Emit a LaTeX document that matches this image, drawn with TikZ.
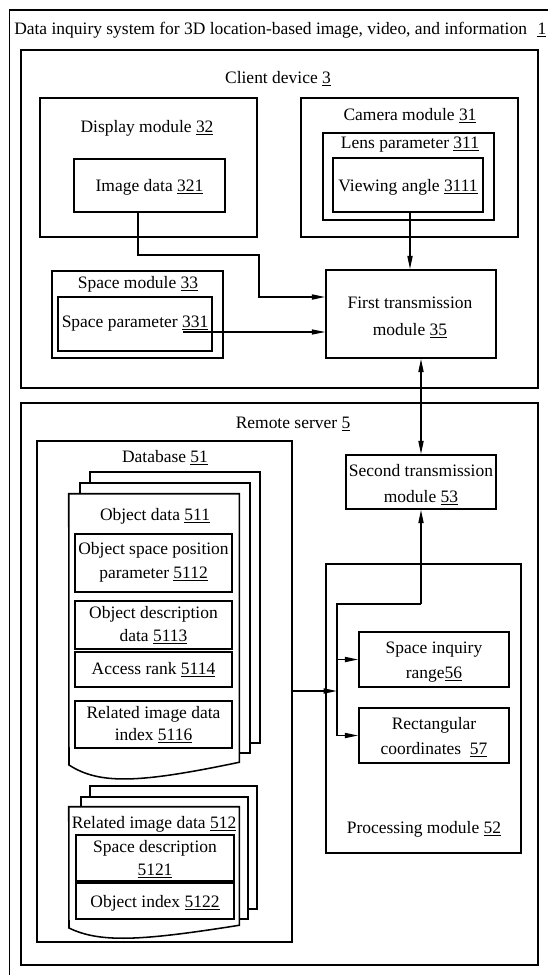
\documentclass[tikz,border=0pt]{standalone}
\usepackage{fontspec}
\setmainfont{Liberation Serif}
\usetikzlibrary{fit,arrows.meta}
\newcommand{\dfont}{\fontsize{13.1pt}{18.8pt}\selectfont}
\newcommand{\unum}[1]{\underline{#1}}
\begin{document}
\begin{tikzpicture}[x=0.75pt,y=-0.75pt,
  box/.style={draw, line width=1.15pt, inner sep=0pt},
  sheet/.style={draw, fill=white, line width=1.15pt, inner sep=0pt},
  lbl/.style={font=\dfont, inner sep=0pt, anchor=base},
  arr/.style={-{Triangle[length=10pt,width=3.8pt]}, line width=1.15pt},
  darr/.style={{Triangle[length=10pt,width=3.8pt]}-{Triangle[length=10pt,width=3.8pt]}, line width=1.15pt}]
\useasboundingbox (0,0) rectangle (547,975);
% outer frame
\coordinate (oa) at (9.5,990);
\coordinate (ob) at (9.5,10);
\coordinate (oc) at (570,10);
\draw[line width=1.15pt] (oa) -- (ob) -- (oc);
\node[lbl, anchor=base west] (title) at (14,34) {Data inquiry system for 3D location-based image, video, and information\hspace{0.6em}\unum{1}};
% client device
\node[box, fit={(21,50)(538,388)}] (client) {};
\node[lbl] (clientlbl) at (278,83) {Client device \unum{3}};
\node[box, fit={(40,98)(257,237)}] (disp) {};
\node[lbl] (displbl) at (147,132) {Display module \unum{32}};
\node[box, fit={(74,159)(225,212)}] (img) {};
\node[lbl] (imglbl) at (149.5,191) {Image data \unum{321}};
\node[box, fit={(301,98)(518,237)}] (cam) {};
\node[lbl] (camlbl) at (410,120) {Camera module \unum{31}};
\node[box, line width=1.5pt, fit={(323,133)(494,220)}] (lens) {};
\node[lbl] (lenslbl) at (410,148) {Lens parameter \unum{311}};
\node[box, fit={(333,158)(483,212)}] (view) {};
\node[lbl] (viewlbl) at (408,191) {Viewing angle \unum{3111}};
\node[box, fit={(52,271)(223,358)}] (spmod) {};
\node[lbl] (spmodlbl) at (138,288) {Space module \unum{33}};
\node[box, line width=1.5pt, fit={(57.5,297)(212,351)}] (sppar) {};
\node[lbl] (spparlbl) at (135,327) {Space parameter \unum{331}};
\node[box, fit={(326,270)(496,358)}] (ft) {};
\node[lbl] (ftlbl1) at (410,308) {First transmission};
\node[lbl] (ftlbl2) at (410,335) {module \unum{35}};
% client connectors
\coordinate (c1) at (138,255);
\coordinate (c2) at (259,297);
\draw[arr] (img.south -| c1) -- (c1) -| (c2) -- (c2 -| ft.west);
\coordinate (c3) at (183,332);
\draw[arr, line width=0.8pt] (c3) -- (c3 -| ft.west);
\coordinate (vx) at (410,0);
\draw[arr] (view.south -| vx) -- (ft.north -| vx);
% remote server
\node[box, fit={(21,403)(538,965)}] (remote) {};
\node[lbl] (remotelbl) at (293,428) {Remote server \unum{5}};
\node[box, fit={(37,441)(292,942)}] (db) {};
\node[lbl] (dblbl) at (165,462) {Database \unum{51}};
% object data stack
\node[sheet, fit={(90,472)(260,743)}] (obj3) {};
\node[sheet, fit={(80,483)(250,753)}] (obj2) {};
\node[inner sep=0pt, fit={(69,494)(239,762)}] (obj) {};
\draw[sheet] (obj.north west) -- (obj.north east) -- (obj.south east)
  .. controls (140,783) and (100,785) .. (69,765) -- cycle;
\node[lbl] (objlbl) at (155,520) {Object data \unum{511}};
\node[box, fit={(75,534)(232,592)}] (osp) {};
\node[lbl] (osplbl1) at (153.5,554) {Object space position};
\node[lbl] (osplbl2) at (153.5,578) {parameter \unum{5112}};
\node[box, fit={(75,601)(232,649)}] (odd) {};
\node[lbl] (oddlbl1) at (153.5,618) {Object description};
\node[lbl] (oddlbl2) at (153.5,641) {data \unum{5113}};
\node[box, fit={(75,652)(232,687)}] (acc) {};
\node[lbl] (acclbl) at (153.5,674) {Access rank \unum{5114}};
\node[box, fit={(75,701)(232,748)}] (rid) {};
\node[lbl] (ridlbl1) at (153.5,718) {Related image data};
\node[lbl] (ridlbl2) at (153.5,740) {index \unum{5116}};
% related image data stack
\node[sheet, fit={(90,786)(257,909)}] (rel3) {};
\node[sheet, fit={(81,797)(248,919)}] (rel2) {};
\node[inner sep=0pt, fit={(69,807)(239,925)}] (rel) {};
\draw[sheet] (rel.north west) -- (rel.north east) -- (rel.south east)
  .. controls (140,941) and (100,943) .. (69,928) -- cycle;
\node[lbl] (rellbl) at (154,828) {Related image data \unum{512}};
\node[box, fit={(76,835)(234,881)}] (spd) {};
\node[lbl] (spdlbl1) at (155,852) {Space description};
\node[lbl] (spdlbl2) at (155,875) {\unum{5121}};
\node[box, fit={(76,883)(234,919)}] (oidx) {};
\node[lbl] (oidxlbl) at (155,907) {Object index \unum{5122}};
% second transmission and processing
\node[box, fit={(346,455)(496,509)}] (st) {};
\node[lbl] (stlbl1) at (421,476) {Second transmission};
\node[lbl] (stlbl2) at (421,502) {module \unum{53}};
\node[box, fit={(326,564)(521,853)}] (proc) {};
\node[lbl] (proclbl) at (424,833) {Processing module \unum{52}};
\node[box, fit={(359,632)(509,687)}] (sir) {};
\node[lbl] (sirlbl1) at (434,653) {Space inquiry};
\node[lbl] (sirlbl2) at (434,678) {range\unum{56}};
\node[box, fit={(359,708)(509,763)}] (rect) {};
\node[lbl] (rectlbl1) at (434,729) {Rectangular};
\node[lbl] (rectlbl2) at (434,754) {coordinates\enspace\unum{57}};
% remote connectors
\draw[darr] (ft.south -| st.north) -- (st.north);
\coordinate (p1) at (421,604);
\coordinate (p2) at (337,604);
\draw[arr] (p1) -- (st.south);
\draw[arr] (p1) -- (p2) |- (rect.west);
\draw[arr] (p2 |- sir.west) -- (sir.west);
\coordinate (dbj) at (337,691);
\draw[arr] (dbj -| db.east) -- (dbj);
\end{tikzpicture}
\end{document}
